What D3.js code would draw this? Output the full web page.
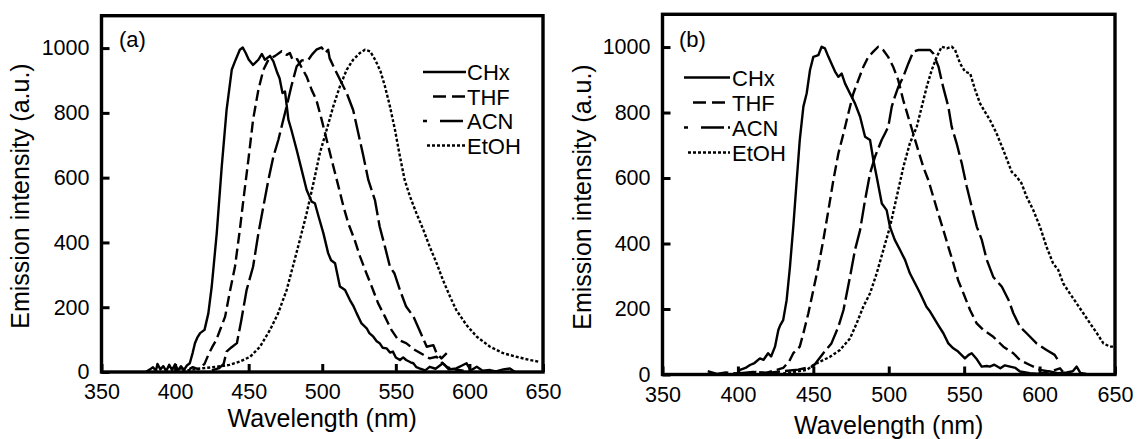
<!DOCTYPE html>
<html><head><meta charset="utf-8">
<script src="https://cdn.jsdelivr.net/npm/d3@7"></script>
<style>html,body{margin:0;padding:0;background:#fff;} svg{display:block;font-family:Arial,"Liberation Sans",sans-serif;}</style>
</head><body>
<svg id="chart" width="1137" height="439"></svg>
<script>
// ---------- data ----------
const seriesNames = ["CHx", "THF", "ACN", "EtOH"];
const xTicks = [350, 400, 450, 500, 550, 600, 650];
const yTicks = [0, 200, 400, 600, 800, 1000];
const xTitle = "Wavelength (nm)";
const yTitle = "Emission intensity (a.u.)";

// Panel (a)  [wavelength nm, intensity a.u.]
const chxA = [[380,0],[383,8],[385,15],[387,4],[388,25],[390,8],[392,18],[394,3],[396,22],[398,6],[400,24],[402,5],[404,18],[406,6],[408,20],[410,27],[412,60],[413.5,89],[415,105],[417,120],[420,130],[422.6,181],[424.9,264],[428.3,428],[431.7,634],[435,809],[438.5,933],[440.7,959],[444,995],[446,1002],[448,985],[450,965],[453,948],[456.6,964],[459,982],[461,964],[464.5,976],[466.8,959],[469.5,923],[471,907],[473,861],[474.7,866],[477,779],[479,748],[482.6,686],[486,624],[489.4,562],[492.8,526],[495,521],[497.5,480],[500.8,428],[504,367],[506,345],[508.7,336],[512,264],[515.5,253],[518.8,222],[521,205],[523.4,181],[526.7,150],[530.2,135],[532,120],[534.7,109],[537,95],[539,89],[541,75],[543.7,73],[546,60],[548,63],[550,45],[552.8,37],[555,45],[557,37],[560,30],[561.9,27],[564,15],[566,11],[570,5],[573,16],[577,10],[582,27],[586,8],[591,11],[595,20],[598,27],[601,5],[605,16],[609,4],[614,6],[618,2],[623,8],[627.5,11],[631,0]];
const thfA = [[400,3],[404,12],[408,4],[412,15],[416,8],[420,25],[422.6,53],[425,75],[428,99],[431,135],[434,171],[437,243],[440.7,325],[444,439],[446.4,531],[449.8,655],[453,779],[456.6,871],[460,933],[463.4,964],[468,976],[472.4,990],[475.8,979],[478,985],[480,962],[483,966],[486,940],[489.4,912],[492.8,871],[496,840],[499.6,779],[503,717],[506.4,655],[511,573],[514.4,511],[517.7,459],[522,408],[525.7,356],[530,305],[533.6,264],[538,212],[542.6,171],[547,130],[551.6,99],[557,89],[563,68],[568.7,53],[573,42],[577.7,47],[581,30],[585,15],[590,8],[596,4]];
const acnA = [[425,5],[430,12],[433,25],[435,63],[438,75],[442,89],[445,160],[448.6,253],[453,325],[456.6,428],[460,511],[463.4,593],[466.8,665],[470.2,717],[472.4,758],[475.8,820],[479,882],[482.6,943],[486,962],[490.6,964],[493,980],[496,995],[499.6,1002],[502,985],[504,995],[505,969],[508,940],[511,912],[516.6,861],[521,809],[524.5,737],[528,665],[531.3,593],[535.8,531],[539,449],[542.6,387],[546,325],[549,305],[552.8,253],[557,202],[562,171],[566,130],[571,78],[575.5,83],[577.7,58],[581,42],[584.6,58]];
const etohA = [[405,3],[410,6],[415,10],[420,12],[428,16],[437,22],[444,32],[451,47],[457.7,78],[464.5,130],[470,181],[475.8,253],[480,325],[484.8,408],[489.4,490],[494,583],[498.4,676],[503,748],[507.5,820],[512,882],[516.6,933],[521,964],[525.6,985],[529,995],[532.5,990],[536,964],[539.6,928],[542.6,882],[546,820],[549.4,748],[552.8,665],[556,593],[559.6,542],[564,490],[568.7,439],[573,387],[577.7,336],[582,284],[586.8,233],[591,192],[598,145],[605,109],[614,78],[623,58],[632,47],[641,37],[647,32]];

// Panel (b)
const chxB = [[399,0],[401.4,14],[405,20],[408,29],[411,35],[414.6,49],[417,45],[420,65],[422,55],[424.6,85],[426.8,136],[428,150],[430,166],[432.3,227],[434.5,329],[436.7,451],[439,594],[441,716],[443.4,818],[445.6,859],[447.8,930],[450,970],[453.3,975],[455.5,1001],[457.7,996],[460,970],[462,950],[464.4,925],[466.6,909],[468.8,919],[471,889],[474.3,858],[477.6,828],[481,787],[484.3,726],[487.6,716],[489.8,655],[492,604],[495.4,522],[498.6,502],[500.8,451],[504,411],[507.5,380],[510.8,350],[514,309],[517.5,278],[520.8,248],[525,207],[527,195],[529.5,176],[532.8,151],[536.2,126],[539.5,95],[542.8,80],[546,70],[550.5,49],[553,60],[555,65],[558,49],[561.6,24],[565,26],[567,24],[570,30],[574,19],[577,28],[580.4,24],[584,20],[587,9],[593.6,4],[600,2],[606,10],[612,4],[618,6],[622,10],[624.6,24],[627,5],[631,2]];
const thfB = [[405,3],[412,8],[418,4],[424,12],[430,20],[434,40],[436.7,65],[441,85],[443.4,126],[446.7,187],[450,258],[453.3,329],[456.6,410],[460,502],[463.3,594],[466.6,675],[470,736],[473.2,797],[476.5,858],[479.8,899],[483.2,940],[486.4,970],[489.6,985],[493,1001],[496.3,991],[499.6,970],[502.9,940],[506.3,899],[509.6,838],[512.9,787],[516.2,736],[519.5,685],[522.9,634],[526.2,594],[529.5,543],[532.8,492],[536.2,441],[539.5,390],[542.8,340],[546,288],[549.5,248],[553.9,197],[558.3,156],[562.7,136],[569.3,115],[576,85],[582.6,65],[587,44],[593.6,29],[600.3,14],[607,9],[613.5,19],[616,5]];
const acnB = [[380,10],[386,2],[392,6],[400,3],[410,8],[420,5],[430,10],[440,15],[450,25],[456.6,65],[462,95],[466.6,146],[470,197],[474.3,298],[477.6,380],[481,441],[484.3,533],[487.6,614],[490.9,665],[495.3,716],[497.5,736],[499.7,757],[502,818],[504,848],[506.4,879],[509.6,909],[513,950],[516.3,986],[519.7,991],[523,991],[527.4,991],[529.6,980],[533,940],[536,879],[539.5,818],[541.7,757],[545,706],[548.4,645],[551.7,574],[555,512],[558.4,451],[561.7,411],[565,350],[569.3,298],[575,268],[579.5,227],[582.6,187],[587,146],[591.4,126],[598,95],[604.6,75],[610,60],[613.5,34]];
const etohB = [[430,3],[439,9],[445.6,14],[450,29],[454.4,39],[461,54],[467.7,75],[474.3,110],[478.7,156],[483.1,207],[487.6,248],[492,309],[496.4,380],[500.8,451],[505.3,543],[509.7,634],[514,706],[518.6,757],[521.9,818],[525.2,879],[528.5,930],[531.8,970],[535.1,1001],[538.5,996],[541.8,1001],[544,991],[547.3,950],[550.6,925],[554,919],[557.3,869],[560.5,828],[563.8,802],[567.1,777],[571.5,736],[576,685],[581.5,619],[584.8,604],[588,584],[591.4,543],[595.8,502],[600.3,451],[604.6,390],[609,339],[612.4,319],[615.7,278],[620,248],[624.6,217],[629,187],[633.5,156],[638,126],[642.3,95],[646.7,85],[650,85]];

// ---------- styles ----------
const dashes = {CHx: null, THF: "11,5", ACN: "21,5", EtOH: "3,2"};
const legendDashes = {CHx: null, THF: "13,6", ACN: "4,13,23", EtOH: "3,2"};

const panels = [
  {id: "a", label: "(a)", series: [chxA, thfA, acnA, etohA],
   left: 101.5, right: 543, top: 15.7, bottom: 372,
   xTitleY: 427, yTitleX: 29, yTitleY: 196, labelX: 119, labelY: 47,
   legX0: [423, 433, 423, 427], legX1: 466, legTextX: 467, legBase: 80, legStep: 24.5},
  {id: "b", label: "(b)", series: [chxB, thfB, acnB, etohB],
   left: 662.5, right: 1115, top: 14.3, bottom: 374.5,
   xTitleY: 434, yTitleX: 591, yTitleY: 197, labelX: 679, labelY: 46.5,
   legX0: [684, 693, 684, 688], legX1: 730, legTextX: 732, legBase: 85.5, legStep: 25}
];

const svg = d3.select("#chart");

panels.forEach(p => {
  const x = d3.scaleLinear().domain([350, 650]).range([p.left, p.right]);
  const y = d3.scaleLinear().domain([0, 1100]).range([p.bottom, p.top]);
  const g = svg.append("g");

  g.append("clipPath").attr("id", "clip-" + p.id)
    .append("rect").attr("x", p.left).attr("y", p.top)
    .attr("width", p.right - p.left).attr("height", p.bottom - p.top);

  const line = d3.line().x(d => x(d[0])).y(d => y(d[1]));
  const curves = g.append("g").attr("clip-path", `url(#clip-${p.id})`);
  p.series.forEach((s, i) => {
    const name = seriesNames[i];
    curves.append("path").datum(s)
      .attr("d", line)
      .attr("fill", "none").attr("stroke", "#000")
      .attr("stroke-width", 2.4)
      .attr("stroke-linejoin", "round")
      .attr("stroke-dasharray", dashes[name]);
  });

  // axes
  const xAxis = d3.axisBottom(x).tickValues(xTicks).tickSize(-8).tickPadding(12).tickFormat(d3.format("d"));
  const gx = g.append("g").attr("transform", `translate(0,${p.bottom})`).call(xAxis);
  const yAxis = d3.axisLeft(y).tickValues(yTicks).tickSize(-8).tickPadding(12).tickFormat(d3.format("d"));
  const gy = g.append("g").attr("transform", `translate(${p.left},0)`).call(yAxis);
  [gx, gy].forEach(ax => {
    ax.select(".domain").remove();
    ax.selectAll(".tick line").attr("stroke", "#000").attr("stroke-width", 3);
    ax.selectAll(".tick text").attr("fill", "#000").attr("font-size", 21.5)
      .attr("font-family", "Arial, 'Liberation Sans', sans-serif");
  });

  // frame
  g.append("rect").attr("x", p.left).attr("y", p.top)
    .attr("width", p.right - p.left).attr("height", p.bottom - p.top)
    .attr("fill", "none").attr("stroke", "#000").attr("stroke-width", 3.4);

  // titles
  g.append("text").attr("x", (p.left + p.right) / 2).attr("y", p.xTitleY)
    .attr("text-anchor", "middle").attr("font-size", 25).text(xTitle);
  g.append("text").attr("transform", `translate(${p.yTitleX},${p.yTitleY}) rotate(-90)`)
    .attr("text-anchor", "middle").attr("font-size", 25).text(yTitle);
  g.append("text").attr("x", p.labelX).attr("y", p.labelY)
    .attr("font-size", 22).text(p.label);

  // legend
  seriesNames.forEach((name, i) => {
    const by = p.legBase + i * p.legStep;
    g.append("line").attr("x1", p.legX0[i]).attr("x2", p.legX1)
      .attr("y1", by - 8).attr("y2", by - 8)
      .attr("stroke", "#000").attr("stroke-width", 2.4)
      .attr("stroke-dasharray", legendDashes[name]);
    g.append("text").attr("x", p.legTextX).attr("y", by)
      .attr("font-size", 22).text(name);
  });
});
</script>
</body></html>
